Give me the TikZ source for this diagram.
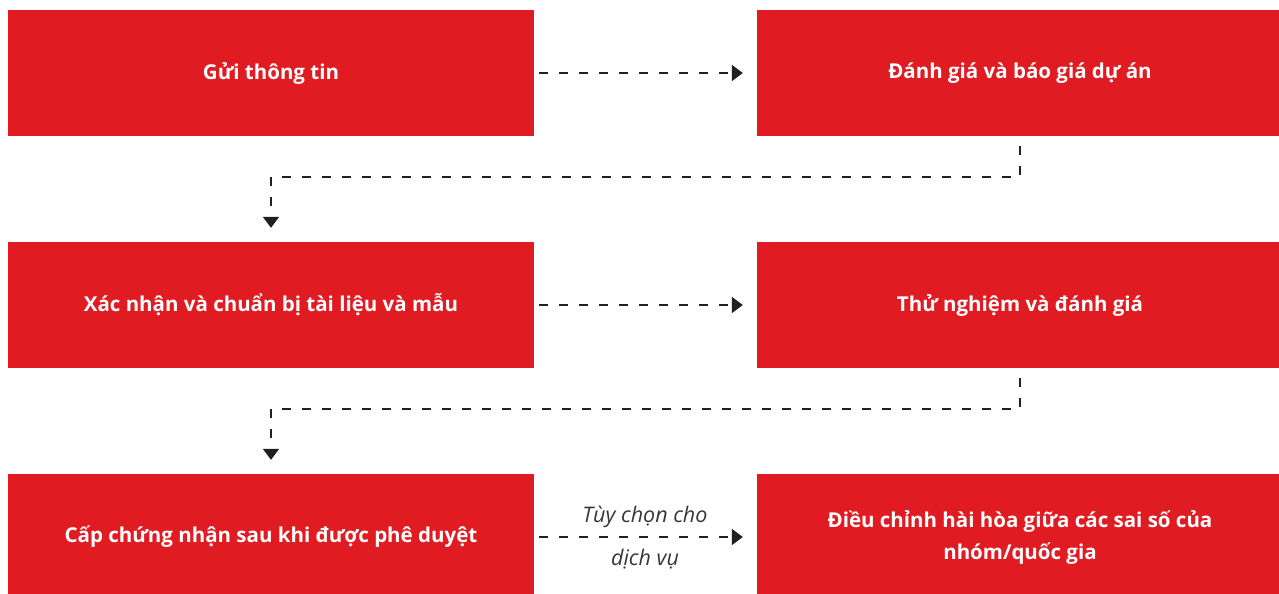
\documentclass[tikz,border=0pt]{standalone}
\usepackage{fontspec}
\setmainfont{Open Sans}
\usepackage{tikz}
\usetikzlibrary{calc}
\usetikzlibrary{arrows.meta}

\definecolor{boxred}{HTML}{E01B22}
\definecolor{linegray}{HTML}{231F20}

\tikzset{
  stepbox/.style={fill=boxred, text=white, font=\fontsize{20.5}{32}\selectfont\bfseries, minimum width=526pt, minimum height=126pt, inner sep=0pt, align=center},
  flow/.style={linegray, line width=2pt, dash pattern=on 9pt off 11pt, -{Triangle[length=11pt, width=16pt]}},
  note/.style={text=linegray!90, font=\fontsize{21.5}{24}\selectfont\itshape, inner sep=0pt}
}

\begin{document}
\begin{tikzpicture} [x=1pt, y=1pt]
\useasboundingbox (0,0) rectangle (1279,594);
\begin{scope}
\clip (0,0) rectangle (1279,594);
\node[stepbox] (gui) at (271,521) {Gửi thông tin};
\node[stepbox] (danhgia) at (1020,521) {Đánh giá và báo giá dự án};
\node[stepbox] (xacnhan) at (271,289) {Xác nhận và chuẩn bị tài liệu và mẫu};
\node[stepbox] (thunghiem) at (1020,289) {Thử nghiệm và đánh giá};
\node[stepbox] (capcn) at (271,57) {Cấp chứng nhận sau khi được phê duyệt};
\node[stepbox] (dieuchinh) at (1020,57) {Điều chỉnh hài hòa giữa các sai số của\\nhóm/quốc gia};
\end{scope}

\foreach \a/\b in {gui/danhgia, xacnhan/thunghiem, capcn/dieuchinh}
  \draw[flow, shorten <=5pt, shorten >=14pt] (\a.east |- \b.west) -- (\b.west);

\draw[flow, shorten <=10pt, shorten >=14pt] (danhgia.south) -- ++(0,-41pt) -| (xacnhan.north);
\draw[flow, shorten <=10pt, shorten >=14pt] (thunghiem.south) -- ++(0,-41pt) -| (capcn.north);

\node[note] (tuychon) at (645,77) {Tùy chọn cho};
\node[note] (dichvu) at (645,35) {dịch vụ};
\end{tikzpicture}
\end{document}
